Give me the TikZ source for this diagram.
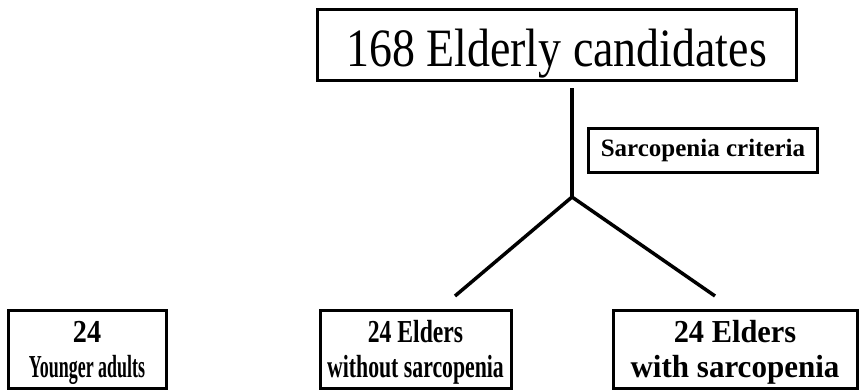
\documentclass[tikz,border=0pt]{standalone}
\usepackage{fontspec}
\setmainfont{Liberation Serif}
\usepackage{graphicx}
\newcommand{\sx}[2]{\scalebox{#1}[1]{#2}}
\newcommand{\twolines}[2]{\raisebox{7pt}[0pt][0pt]{\begin{tabular}[t]{@{}c@{}}#1\\#2\end{tabular}}}
\begin{document}
\begin{tikzpicture}[x=1pt,y=-1pt,
  box/.style={draw=black,line width=3pt,inner sep=0pt,outer sep=0pt,align=center},
  lowtext/.style={font=\fontsize{32}{35}\selectfont\bfseries},
  conn/.style={line width=3.5pt,line cap=butt}]
\useasboundingbox (0,0) rectangle (866,391);
\node[box,minimum width=479pt,minimum height=71pt] (top) at (556.5,44.5)
  {\raisebox{-22pt}[0pt][0pt]{\fontsize{54}{60}\selectfont\sx{0.85}{168 Elderly candidates}}};
\node[box,minimum width=229pt,minimum height=44pt] (crit) at (703,150)
  {\fontsize{25}{28}\selectfont\bfseries\sx{1.0}{Sarcopenia criteria}};
\node[box,lowtext,minimum width=158pt,minimum height=78pt] (young) at (87,349)
  {\twolines{\sx{0.88}{24}}{\sx{0.56}{Younger adults}}};
\node[box,lowtext,minimum width=191pt,minimum height=78pt] (without) at (415.5,349)
  {\twolines{\sx{0.74}{24 Elders}}{\sx{0.68}{without sarcopenia}}};
\node[box,lowtext,minimum width=244pt,minimum height=78pt] (with) at (735,349)
  {\twolines{\sx{0.95}{24 Elders}}{\sx{0.97}{with sarcopenia}}};
\coordinate (a) at (572,88);
\coordinate (split) at (572,197);
\coordinate (l) at (455,296);
\coordinate (r) at (715,296);
\draw[conn] (a) -- (split);
\draw[conn,line join=miter] (l) -- (split) -- (r);
\end{tikzpicture}
\end{document}
